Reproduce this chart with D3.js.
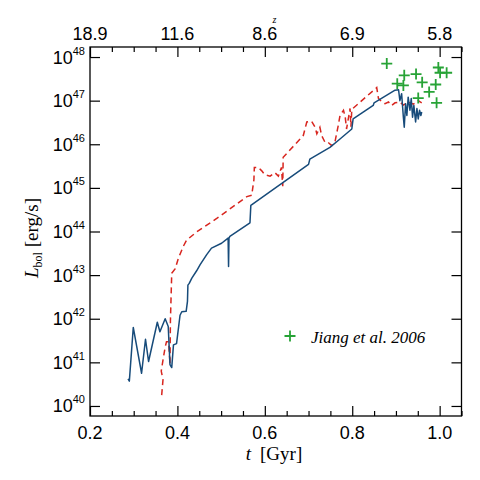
<!DOCTYPE html>
<html>
<head>
<meta charset="utf-8">
<script src="https://cdn.jsdelivr.net/npm/d3@7"></script>
<style>
  body { margin: 0; background: #fff; }
  .tick line { stroke: #000; stroke-width: 1.2; }
</style>
</head>
<body>
<svg id="chart" width="480" height="480"></svg>
<script>

// simulation curves: time [Gyr] and log10 L_bol
let blueT = [0.287,0.290,0.299,0.318,0.327,0.334,0.354,0.360,0.372,0.379,0.383,0.387,0.391,0.398,0.406,0.410,0.420,0.423,0.424,0.427,0.433,0.444,0.452,0.467,0.478,0.501,0.516,0.517,0.518,0.520,0.566,0.568,0.700,0.703,0.749,0.772,0.799,0.802,0.848,0.850,0.898,0.906,0.909,0.913,0.917,0.919,0.922,0.925,0.928,0.932,0.935,0.938,0.941,0.945,0.948,0.951,0.954,0.957,0.959];
let blueL = [40.62,40.57,41.80,40.75,41.53,41.02,41.92,41.70,42.00,41.82,40.95,40.88,41.40,41.43,42.08,42.16,42.17,42.40,42.77,42.81,42.93,43.10,43.24,43.47,43.62,43.73,43.85,43.20,43.85,43.89,44.20,44.60,45.54,45.66,45.93,46.12,46.35,46.58,46.89,46.95,47.24,47.25,47.00,47.16,46.62,46.39,46.93,46.66,47.08,46.78,47.05,46.62,46.89,46.51,46.82,46.58,46.78,46.66,46.74];

let redT = [0.364,0.367,0.363,0.367,0.372,0.375,0.380,0.383,0.384,0.387,0.395,0.402,0.413,0.421,0.444,0.490,0.559,0.570,0.575,0.576,0.585,0.593,0.600,0.612,0.623,0.631,0.638,0.641,0.642,0.688,0.696,0.707,0.715,0.719,0.726,0.730,0.738,0.745,0.753,0.761,0.768,0.772,0.780,0.784,0.787,0.795,0.797,0.799,0.856,0.860,0.868,0.875,0.883,0.890,0.898,0.909,0.917,0.928,0.940,0.951,0.959];
let redL = [40.25,40.60,40.80,41.05,41.35,41.47,41.47,40.95,41.95,43.04,43.15,43.38,43.65,43.80,43.99,44.30,44.80,44.83,45.18,45.47,45.47,45.39,45.30,45.27,45.35,45.27,45.47,45.04,45.70,46.20,46.51,46.53,46.39,46.24,46.39,46.20,46.04,46.04,45.97,46.08,46.43,46.66,46.78,46.62,46.35,46.82,46.40,46.80,47.30,47.05,46.97,46.93,46.97,46.89,46.95,46.97,46.90,46.97,46.92,47.00,46.95];

// Jiang et al. 2006 quasars
let jiangT = [0.879,0.919,0.946,0.903,0.917,0.960,0.997,1.001,1.016,0.991,0.976,0.951,0.993];
let jiangL = [47.85,47.58,47.61,47.39,47.35,47.42,47.76,47.64,47.64,47.37,47.20,47.06,46.95];

// axis ticks
let tMajor = [0.2, 0.4, 0.6, 0.8, 1.0];
let zLabels = ["18.9", "11.6", "8.6", "6.9", "5.8"];
let tMinor = [0.25, 0.3, 0.35, 0.45, 0.5, 0.55, 0.65, 0.7, 0.75, 0.85, 0.9, 0.95, 1.05];
let decades = [40, 41, 42, 43, 44, 45, 46, 47, 48];

let svg = d3.select("#chart");
let sans = "'Liberation Sans', Arial, Helvetica, sans-serif";
let serif = "'Liberation Serif', 'Times New Roman', serif";

let x = d3.scaleLinear().domain([0.2, 1.05]).range([90, 461.5]);
let y = d3.scaleLog().domain([Math.pow(10, 39.77), Math.pow(10, 48.23)]).range([416, 47]);

let pLeft = x.range()[0], pRight = x.range()[1];
let pTop = y.range()[1], pBottom = y.range()[0];

// curves
let line = d3.line()
    .x(function(d){ return x(d[0]); })
    .y(function(d){ return y(Math.pow(10, d[1])); });

svg.append("path")
    .datum(redT.map(function(t, i){ return [t, redL[i]]; }))
    .attr("d", line)
    .attr("fill", "none")
    .attr("stroke", "#d8261f")
    .attr("stroke-width", 1.5)
    .attr("stroke-dasharray", "6,4");

svg.append("path")
    .datum(blueT.map(function(t, i){ return [t, blueL[i]]; }))
    .attr("d", line)
    .attr("fill", "none")
    .attr("stroke", "#174b7a")
    .attr("stroke-width", 1.5)
    .attr("stroke-linejoin", "round");

// plus markers
let plus = "M-5.5,0H5.5M0,-5.5V5.5";
svg.append("g").selectAll("path")
    .data(jiangT.map(function(t, i){ return [t, jiangL[i]]; }))
    .join("path")
    .attr("d", plus)
    .attr("transform", function(d){ return "translate(" + x(d[0]) + "," + y(Math.pow(10, d[1])) + ")"; })
    .attr("stroke", "#27a336")
    .attr("stroke-width", 1.8)
    .attr("fill", "none");

// frame
svg.append("rect")
    .attr("x", pLeft).attr("y", pTop)
    .attr("width", pRight - pLeft).attr("height", pBottom - pTop)
    .attr("fill", "none")
    .attr("stroke", "#000")
    .attr("stroke-width", 1.3);

// ticks (inward), labels drawn separately
function ticks(axis, tr, vals, size) {
    let g = svg.append("g")
        .attr("transform", tr)
        .call(axis.tickValues(vals).tickSize(-size).tickFormat(""));
    g.select(".domain").remove();
}
ticks(d3.axisBottom(x), "translate(0," + pBottom + ")", tMajor, 10);
ticks(d3.axisBottom(x), "translate(0," + pBottom + ")", tMinor, 5);
ticks(d3.axisTop(x), "translate(0," + pTop + ")", tMajor, 10);
ticks(d3.axisTop(x), "translate(0," + pTop + ")", tMinor, 5);
let decVals = decades.map(function(d){ return Math.pow(10, d); });
ticks(d3.axisLeft(y), "translate(" + pLeft + ",0)", decVals, 10);
ticks(d3.axisRight(y), "translate(" + pRight + ",0)", decVals, 10);

// bottom labels
svg.append("g").selectAll("text")
    .data(tMajor)
    .join("text")
    .attr("x", function(d){ return x(d); })
    .attr("y", 438.5)
    .attr("text-anchor", "middle")
    .style("font-family", sans).style("font-size", "18px")
    .text(function(d){ return d3.format(".1f")(d); });

// top labels (redshift)
svg.append("g").selectAll("text")
    .data(tMajor)
    .join("text")
    .attr("x", function(d){ return x(d); })
    .attr("y", 39.5)
    .attr("text-anchor", "middle")
    .style("font-family", sans).style("font-size", "18px")
    .text(function(d, i){ return zLabels[i]; });

svg.append("text")
    .attr("x", 274.5).attr("y", 23)
    .attr("text-anchor", "middle")
    .style("font-family", serif).style("font-style", "italic").style("font-size", "10px")
    .text("z");

// left labels 10^n
let yl = svg.append("g").selectAll("text")
    .data(decades)
    .join("text")
    .attr("x", 85)
    .attr("y", function(d){ return y(Math.pow(10, d)) + 6.5; })
    .attr("text-anchor", "end")
    .style("font-family", sans).style("font-size", "18px");
yl.append("tspan").text("10");
yl.append("tspan").attr("dy", -9).style("font-size", "11px").text(function(d){ return d; });

// axis titles
let xt = svg.append("text")
    .attr("x", 274).attr("y", 460)
    .attr("text-anchor", "middle")
    .style("font-family", serif).style("font-size", "19px");
xt.append("tspan").style("font-style", "italic").text("t");
xt.append("tspan").attr("dx", 9).text("[Gyr]");

let ytl = svg.append("text")
    .attr("transform", "translate(38,238) rotate(-90)")
    .attr("text-anchor", "middle")
    .style("font-family", serif).style("font-size", "19px");
ytl.append("tspan").style("font-style", "italic").text("L");
ytl.append("tspan").attr("dy", 4).style("font-size", "12px").text("bol");
ytl.append("tspan").attr("dy", -4).text(" [erg/s]");

// legend
svg.append("path")
    .attr("d", plus)
    .attr("transform", "translate(290,336)")
    .attr("stroke", "#27a336").attr("stroke-width", 1.8);
svg.append("text")
    .attr("x", 311).attr("y", 342.5)
    .style("font-family", serif).style("font-style", "italic").style("font-size", "17px")
    .text("Jiang et al. 2006");

</script>
</body>
</html>
